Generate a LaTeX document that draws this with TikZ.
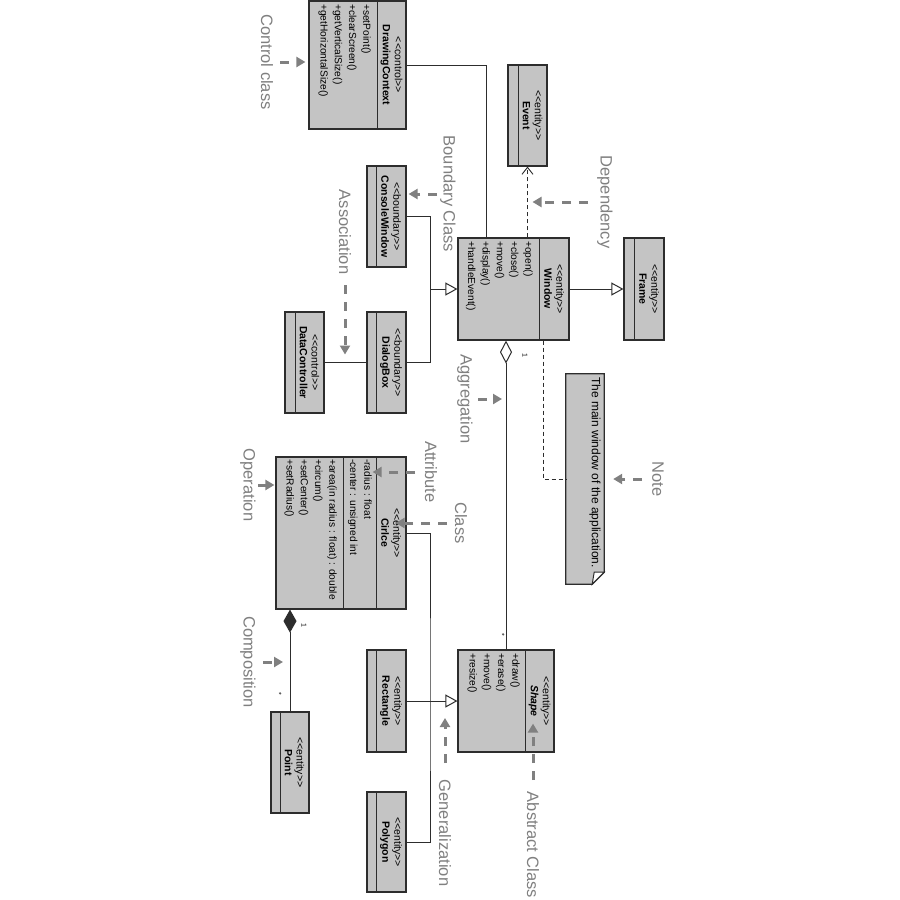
\documentclass[tikz,border=0pt]{standalone}
\usepackage{fontspec}
\newfontfamily\umlfont{Liberation Sans}
\usepackage{tikz}
\usetikzlibrary{arrows.meta}
\usetikzlibrary{calc}
\definecolor{boxgray}{RGB}{196,196,196}
\definecolor{hintgray}{RGB}{128,128,128}
\definecolor{edge}{RGB}{45,45,45}
\tikzstyle{cls}=[rectangle,draw=edge,fill=boxgray,line width=1.2pt,inner sep=0mm]
\tikzstyle{clsname}=[rotate=-90,align=center,inner sep=0mm,font=\umlfont\fontsize{10.5}{12}\selectfont]
\tikzstyle{members}=[rotate=-90,align=left,anchor=north west,inner sep=0mm,font=\umlfont\fontsize{10.2}{14.3}\selectfont]
\tikzstyle{mult}=[rotate=-90,inner sep=0mm,font=\umlfont\fontsize{7}{8}\selectfont]
\tikzstyle{hint}=[rotate=-90,inner sep=0mm,text=hintgray,font=\umlfont\fontsize{16.5}{18}\selectfont]
\tikzstyle{hintarrow}=[draw=hintgray,line width=3pt,dash pattern=on 9pt off 8pt,-{Triangle[length=9pt,width=10pt]}]
\tikzstyle{divider}=[draw=edge,line width=1.2pt]
\tikzstyle{assoc}=[draw=edge,line width=1pt]
\tikzstyle{inherit}=[assoc,-{Triangle[open,length=12pt,width=13pt,fill=white]}]
\tikzstyle{depend}=[assoc,line width=0.9pt,dash pattern=on 4pt off 3pt,-{Straight Barb[length=7pt,width=11pt]}]
\tikzstyle{notelink}=[assoc,line width=0.9pt,dash pattern=on 4pt off 3pt]
\tikzstyle{aggr}=[assoc,{Diamond[open,length=23pt,width=12pt,fill=white]}-]
\tikzstyle{compo}=[assoc,{Diamond[length=23pt,width=13pt,fill=edge]}-]

\begin{document}
\begin{tikzpicture}[x=1pt,y=-1pt]
      \path[fill=white,use as bounding box] (0,0) rectangle (900,900);
      % classes
      \node[cls,minimum width=97pt,minimum height=128pt] at (357.5,65) (dc) {};
      \node[cls,minimum width=39pt,minimum height=101pt] at (527.5,115.5) (ev) {};
      \node[cls,minimum width=39pt,minimum height=101pt] at (386.5,216.5) (cw) {};
      \node[cls,minimum width=39pt,minimum height=101pt] at (386.5,362.5) (db) {};
      \node[cls,minimum width=39pt,minimum height=101pt] at (304.5,362.5) (dctl) {};
      \node[cls,minimum width=111pt,minimum height=102pt] at (513.5,289) (win) {};
      \node[cls,minimum width=40pt,minimum height=102pt] at (644,289) (fr) {};
      \node[cls,minimum width=130pt,minimum height=152pt] at (341,533) (cir) {};
      \node[cls,minimum width=38pt,minimum height=101pt] at (290,762.5) (pt) {};
      \node[cls,minimum width=39pt,minimum height=102pt] at (386.5,701) (rc) {};
      \node[cls,minimum width=39pt,minimum height=100pt] at (386.5,842) (pg) {};
      \node[cls,minimum width=96pt,minimum height=102pt] at (506,701) (shp) {};
      \draw[divider] ([xshift=-29pt]dc.north east) -- ([xshift=-29pt]dc.south east);
      \draw[divider] ([xshift=-29pt]ev.north east) -- ([xshift=-29pt]ev.south east);
      \draw[divider] ([xshift=-30pt]cw.north east) -- ([xshift=-30pt]cw.south east);
      \draw[divider] ([xshift=-30pt]db.north east) -- ([xshift=-30pt]db.south east);
      \draw[divider] ([xshift=-29pt]dctl.north east) -- ([xshift=-29pt]dctl.south east);
      \draw[divider] ([xshift=-30pt]win.north east) -- ([xshift=-30pt]win.south east);
      \draw[divider] ([xshift=-30pt]fr.north east) -- ([xshift=-30pt]fr.south east);
      \draw[divider] ([xshift=-30pt]cir.north east) -- ([xshift=-30pt]cir.south east);
      \draw[divider] ([xshift=-63pt]cir.north east) -- ([xshift=-63pt]cir.south east);
      \draw[divider] ([xshift=-29pt]pt.north east) -- ([xshift=-29pt]pt.south east);
      \draw[divider] ([xshift=-30pt]rc.north east) -- ([xshift=-30pt]rc.south east);
      \draw[divider] ([xshift=-30pt]pg.north east) -- ([xshift=-30pt]pg.south east);
      \draw[divider] ([xshift=-29pt]shp.north east) -- ([xshift=-29pt]shp.south east);
      % class texts
      \node[clsname] at (391.5,65) (dc-name) {<<control>>\\\textbf{DrawingContext}};
      \node[members] at (371,4) (dc-ops) {+setPoint()\\+clearScreen()\\+getVerticalSize()\\+getHorizontalSize()};
      \node[clsname] at (532.5,115.5) (ev-name) {<<entity>>\\\textbf{Event}};
      \node[clsname] at (391,216.5) (cw-name) {<<boundary>>\\\textbf{ConsoleWindow}};
      \node[clsname] at (391,362.5) (db-name) {<<boundary>>\\\textbf{DialogBox}};
      \node[clsname] at (309.5,362.5) (dctl-name) {<<control>>\\\textbf{DataController}};
      \node[clsname] at (554,289) (win-name) {<<entity>>\\\textbf{Window}};
      \node[members] at (533,241) (win-ops) {+open()\\+close()\\+move()\\+display()\\+handleEvent()};
      \node[clsname] at (649,289) (fr-name) {<<entity>>\\\textbf{Frame}};
      \node[clsname] at (391,533) (cir-name) {<<entity>>\\\textbf{Cirlce}};
      \node[members] at (372,459) (cir-attr) {-radius : float\\-center : unsigned int};
      \node[members] at (337,459) (cir-ops) {+area(in radius : float) : double\\+circum()\\+setCenter()\\+setRadius()};
      \node[clsname] at (294.5,762.5) (pt-name) {<<entity>>\\\textbf{Point}};
      \node[clsname] at (391,701) (rc-name) {<<entity>>\\\textbf{Rectangle}};
      \node[clsname] at (391,842) (pg-name) {<<entity>>\\\textbf{Polygon}};
      \node[clsname] at (539.5,701) (shp-name) {<<entity>>\\\textbf{\textit{Shape}}};
      \node[members] at (520,653) (shp-ops) {+draw()\\+erase()\\+move()\\+resize()};
      % note
      \node[minimum width=38pt,minimum height=210pt,inner sep=0mm] at (585,479) (note) {};
      \draw[draw=edge,fill=boxgray,line width=1.2pt] (note.north west) -- (note.north east) -- ([yshift=12pt]note.south east) -- ([xshift=-12pt]note.south east) -- (note.south west) -- cycle;
      \draw[draw=edge,fill=white,line width=1pt] ([yshift=12pt]note.south east) -- ([xshift=-10pt,yshift=12pt]note.south east) -- ([xshift=-12pt]note.south east) -- cycle;
      \node[rotate=-90,anchor=west,inner sep=0mm,font=\umlfont\fontsize{12}{14}\selectfont] at (595,377) (note-text) {The main window of the application.};
      % relations
      \draw[assoc] (dc.east) -| ([xshift=-27.5pt]win.north);
      \draw[depend] (win.north -| ev.south) -- (ev.south);
      \draw[inherit] (win.east) -- (fr.west);
      \coordinate (wjoin) at (430,289);
      \draw[assoc] (cw.east) -| (wjoin);
      \draw[assoc] (db.east) -| (wjoin);
      \draw[inherit] (wjoin) -- (win.west);
      \draw[assoc] (dctl.east) -- (db.west);
      \draw[aggr] (win.south -| shp.north) -- (shp.north);
      \draw[notelink] ([xshift=29.5pt]win.south) |- (note.west);
      \coordinate (sjoin) at (430,701);
      \draw[assoc] (cir.east) -| (sjoin) |- (pg.east);
      \draw[inherit] (rc.east) -- (shp.west);
      \draw[compo] (cir.south -| pt.north) -- (pt.north);
      \node[mult] at (525,355) (m-win) {1};
      \node[mult] at (502,635) (m-shp) {*};
      \node[mult] at (304,625) (m-cir) {1};
      \node[mult] at (279,694) (m-pt) {*};
      % hints
      \node[hint] at (267,62) (lcc) {Control class};
      \node[hint] at (448,194) (lbc) {Boundary Class};
      \node[hint] at (345,232) (la) {Association};
      \node[hint] at (605,202) (ldep) {Dependency};
      \node[hint] at (465,399) (lag) {Aggregation};
      \node[hint] at (658,479) (lnote) {Note};
      \node[hint] at (431,472) (lat) {Attribute};
      \node[hint] at (461,523) (lcl) {Class};
      \node[hint] at (248,485) (lop) {Operation};
      \node[hint] at (248,662) (lcomp) {Composition};
      \node[hint] at (445,833) (lgen) {Generalization};
      \node[hint] at (533,845) (labs) {Abstract Class};
      \draw[hintarrow,shorten >=3pt] ($(lcc)+(13,0)$) -- (lcc -| dc.west);
      \draw[hintarrow,shorten >=2pt] ($(lbc)+(-11,0)$) -- (lbc -| cw.east);
      \draw[hintarrow,shorten >=8pt] ($(la)+(0,53)$) -- (la |- db.east);
      \draw[hintarrow,shorten >=5pt] ($(ldep)+(-17,0)$) -- (ldep -| ev.south);
      \draw[hintarrow,shorten >=4pt] ($(lag)+(13,0)$) -- (lag -| shp.north);
      \draw[hintarrow,shorten >=9pt] ($(lnote)+(-16,0)$) -- (lnote -| note.east);
      \draw[hintarrow] ($(lat)+(-16,0)$) -- ($(lat -| cir.east)+(-34,0)$);
      \draw[hintarrow] ($(lcl)+(-14,0)$) -- ($(lcl -| cir.east)+(-11,0)$);
      \draw[hintarrow,shorten >=1pt] ($(lop)+(10,0)$) -- (lop -| cir.west);
      \draw[hintarrow,shorten >=7pt] ($(lcomp)+(15,0)$) -- (lcomp -| pt.north);
      \draw[hintarrow,shorten >=17pt] ($(lgen)+(0,-70)$) -- (lgen |- rc.east);
      \draw[hintarrow] ($(labs)+(0,-65)$) -- ($(labs |- shp.south)+(0,-29)$);
    \end{tikzpicture}
\end{document}
